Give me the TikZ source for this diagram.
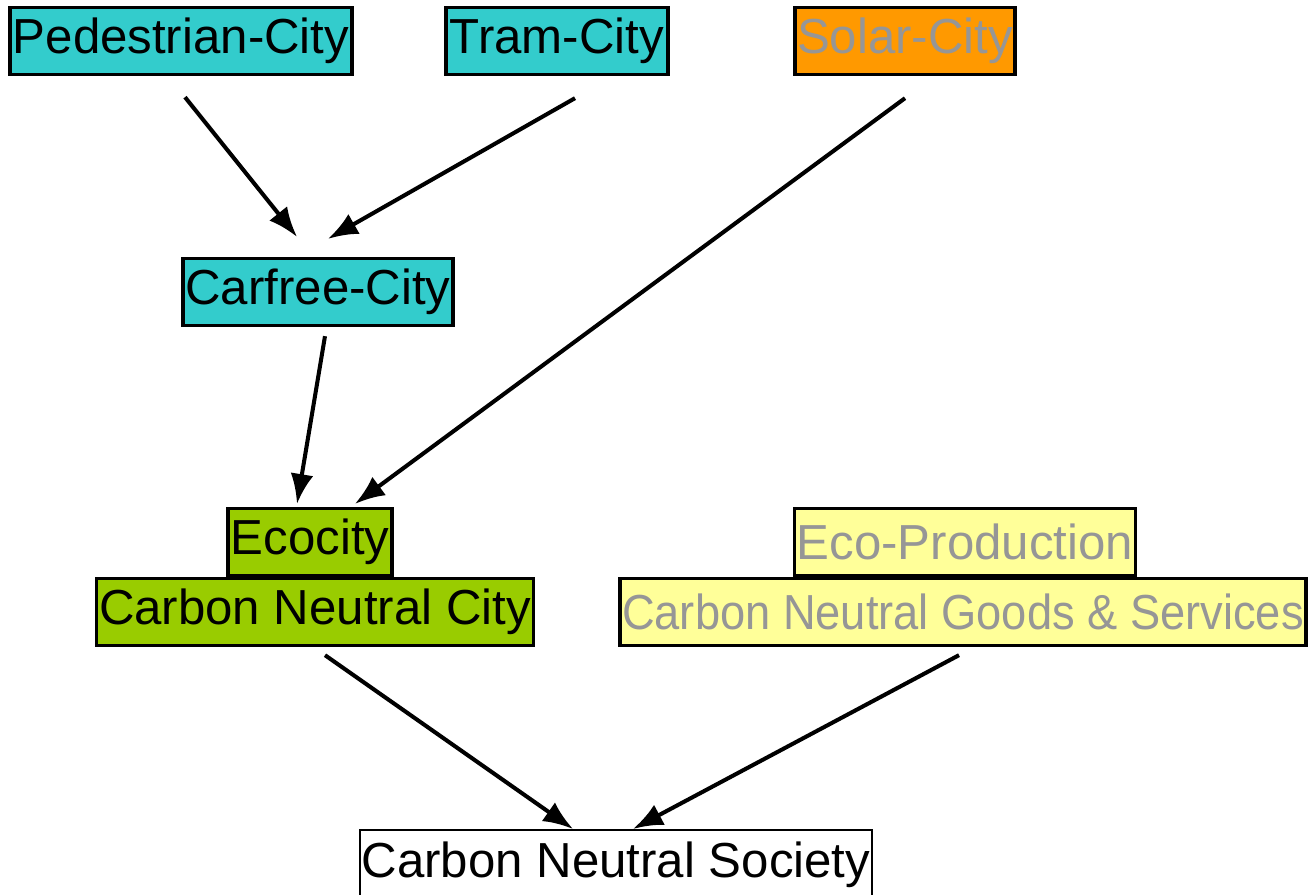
\documentclass[tikz,border=0pt]{standalone}
\usepackage{fontspec}
\usepackage{graphicx}
\setmainfont{Liberation Sans}
\usetikzlibrary{arrows.meta,calc}
\definecolor{cityblue}{RGB}{51,204,204}
\definecolor{solarorange}{RGB}{255,153,0}
\definecolor{ecogreen}{RGB}{153,204,0}
\definecolor{goodsyellow}{RGB}{255,255,153}
\definecolor{fadegray}{RGB}{150,150,150}
\tikzset{
  box/.style={draw,line width=1.9pt,inner sep=0pt,minimum height=1.34cm,
    font=\fontsize{28}{30}\selectfont},
  arr/.style={-{Latex[length=17pt,width=13pt]},line width=2.3pt}
}
\begin{document}
\begin{tikzpicture}[x=0.02cm,y=-0.02cm]
  \useasboundingbox (0,0) rectangle (1308,894);
  % top row
  \node[box,fill=cityblue,minimum width=6.84cm] (ped) at (181,41) {Pedestrian-City};
  \node[box,fill=cityblue,minimum width=4.44cm] (tram) at (557,41) {Tram-City};
  \node[box,fill=solarorange,text=fadegray,minimum width=4.4cm] (solar) at (905,41) {Solar-City};
  % middle
  \node[box,fill=cityblue,minimum width=5.4cm] (carfree) at (318,292) {Carfree-City};
  % city and goods
  \node[box,fill=ecogreen,minimum width=3.28cm] (eco) at (310,542) {Ecocity};
  \node[box,fill=ecogreen,minimum width=8.74cm] (cnc) at (315,612) {Carbon Neutral City};
  \node[box,fill=goodsyellow,text=fadegray,minimum width=6.82cm] (ecoprod) at (965,542) {Eco-Production};
  \node[box,fill=goodsyellow,text=fadegray,minimum width=13.72cm] (goods) at (963,612)
    {\scalebox{0.92}[1]{Carbon Neutral Goods \& Services}};
  % bottom
  \node[box,fill=white,line width=1.2pt,minimum width=10.24cm,minimum height=1.4cm] (society) at (616,865) {Carbon Neutral Society};
  % arrows
  \draw[arr] ($(ped.south)+(4,21)$) -- ($(carfree.north)+(-21,-20)$);
  \draw[arr] ($(tram.south)+(18,22)$) -- ($(carfree.north)+(10,-18)$);
  \draw[arr] ($(solar.south)+(0,22)$) -- ($(eco.north)+(45,-3)$);
  \draw[arr] ($(carfree.south)+(7,9)$) -- ($(eco.north)+(-13,-3)$);
  \draw[arr] ($(cnc.south)+(10,8)$) -- ($(society.north)+(-43,0)$);
  \draw[arr] ($(goods.south)+(-4,8)$) -- ($(society.north)+(17,0)$);
\end{tikzpicture}
\end{document}
